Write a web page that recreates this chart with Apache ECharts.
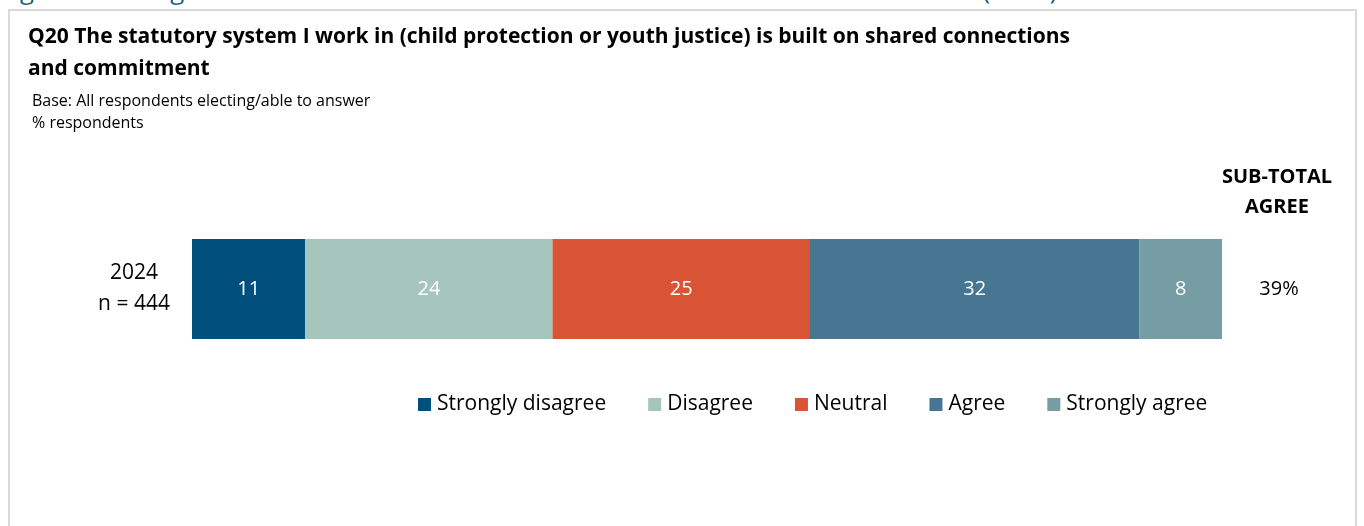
<!DOCTYPE html>
<html>
<head>
<meta charset="utf-8">
<script src="https://cdn.jsdelivr.net/npm/echarts@6/dist/echarts.min.js"></script>
<style>
html,body{margin:0;padding:0;background:#fff;}
#c{width:1364px;height:526px;}
</style>
</head>
<body>
<div id="c"></div>
<script>
var categories = ['2024\nn = 444'];
var seriesNames = ['Strongly disagree', 'Disagree', 'Neutral', 'Agree', 'Strongly agree'];
var stronglyDisagree = [11];
var disagree = [24];
var neutral = [25];
var agree = [32];
var stronglyAgree = [8];
var subTotalAgree = ['39%'];
var colors = ['#004f7c', '#a5c5bd', '#d95335', '#477693', '#769ca4'];

var FONT = '"Open Sans", "Noto Sans", sans-serif';
var seriesData = [stronglyDisagree, disagree, neutral, agree, stronglyAgree];

var chart = echarts.init(document.getElementById('c'), null, {renderer: 'canvas'});
chart.setOption({
  animation: false,
  backgroundColor: '#ffffff',
  textStyle: {fontFamily: FONT},
  graphic: [
    {type: 'rect', shape: {x: 9, y: 10, width: 1347, height: 540},
     style: {fill: 'none', stroke: '#d9d9d9', lineWidth: 2}},
    {type: 'text', x: 0, y: -21,
     style: {text: 'Figure 3.2.3: Agreement with statement on shared connections and commitment (2024)',
       font: '26px ' + FONT, fill: '#1f5b7d'}},
    {type: 'text', x: 28, y: 21,
     style: {text: 'Q20 The statutory system I work in (child protection or youth justice) is built on shared connections\nand commitment',
       font: 'bold 21px ' + FONT, fill: '#000', lineHeight: 32}},
    {type: 'text', x: 32, y: 90,
     style: {text: 'Base: All respondents electing/able to answer\n% respondents',
       font: '16px ' + FONT, fill: '#000', lineHeight: 22}},
    {type: 'text', x: 1277, y: 162,
     style: {text: 'SUB-TOTAL\nAGREE', align: 'center',
       font: 'bold 20px ' + FONT, fill: '#000', lineHeight: 30}}
  ],
  legend: {
    data: seriesNames,
    bottom: 111,
    left: 418,
    padding: 0,
    itemWidth: 13,
    itemHeight: 13,
    itemGap: 42,
    icon: 'rect',
    textStyle: {fontSize: 21, color: '#000', fontFamily: FONT, padding: [0, 0, 0, 1]}
  },
  grid: {left: 192, right: 142, top: 239, height: 100, containLabel: false},
  xAxis: {type: 'value', min: 0, max: 100, show: false},
  yAxis: [
    {type: 'category', data: categories,
     axisLine: {show: false}, axisTick: {show: false},
     axisLabel: {fontSize: 21, color: '#000', align: 'center', margin: 58, lineHeight: 31, fontFamily: FONT}},
    {type: 'category', data: subTotalAgree, position: 'right',
     axisLine: {show: false}, axisTick: {show: false},
     axisLabel: {fontSize: 20, color: '#000', align: 'center', margin: 57, padding: [5, 0, 0, 0], fontFamily: FONT}}
  ],
  series: seriesNames.map(function (n, i) {
    return {
      name: n, type: 'bar', stack: 'total', barWidth: 100,
      data: seriesData[i],
      itemStyle: {color: colors[i]},
      label: {show: true, position: 'inside', color: '#fff', fontSize: 20, padding: [3, 0, 0, 0], fontFamily: FONT}
    };
  })
});
</script>
</body>
</html>
